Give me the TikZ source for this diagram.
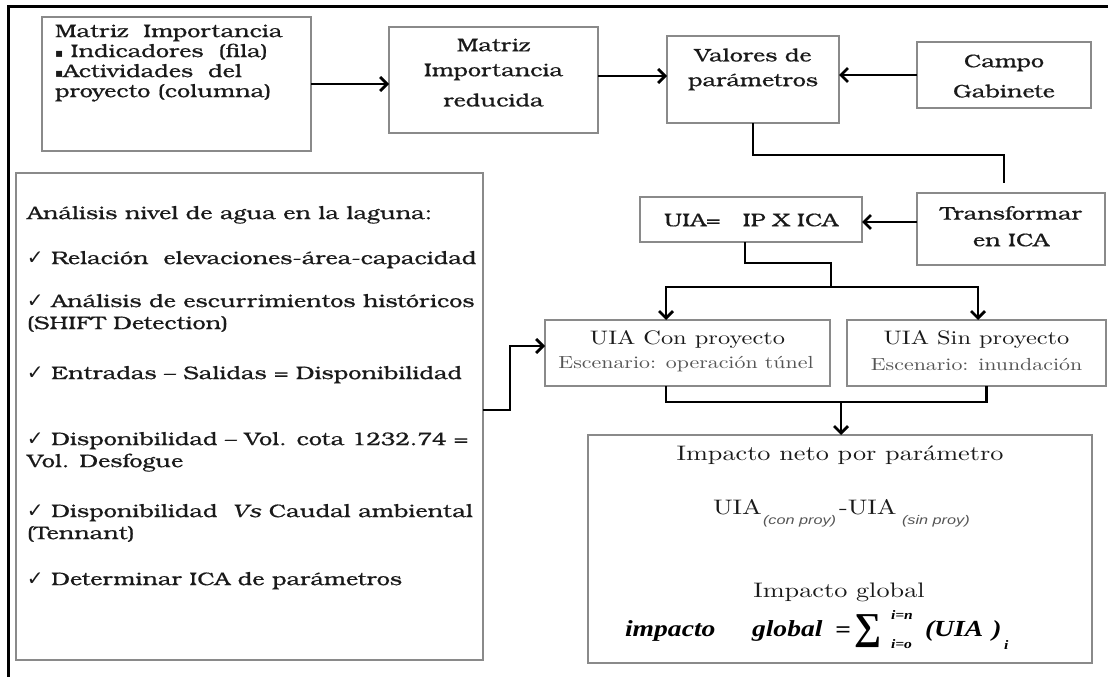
\documentclass[tikz,border=0pt]{standalone}
\usepackage{fontspec}
\usetikzlibrary{arrows.meta}
\newfontfamily\bk{texgyrebonum}[Extension=.otf, UprightFont=*-regular, ItalicFont=*-italic, BoldFont=*-bold, BoldItalicFont=*-bolditalic, FakeStretch=1.28, FakeBold=0.6]
\newfontfamily\lm{lmroman10}[Extension=.otf, UprightFont=*-regular, ItalicFont=*-italic, BoldFont=*-bold, FakeStretch=1.25]
\newfontfamily\tnr{Liberation Serif}[FakeStretch=1.2]
\newfontfamily\tnrs{Liberation Serif}
\newfontfamily\lsans{Liberation Sans}[FakeStretch=1.3]
\newfontfamily\dv{DejaVu Sans}
\newcommand\chk{{\dv\fontsize{20}{20}\selectfont ✓}}
\newcommand\sqb{{\dv\fontsize{12}{12}\selectfont ▪}}
\newcommand\fbi{\tnr\bfseries\itshape}
\definecolor{boxgray}{HTML}{8A8A8A}
\definecolor{txtc}{HTML}{1A1A1A}
\definecolor{subgray}{HTML}{555555}
\tikzset{
  box/.style={draw=boxgray, line width=1.8pt, inner sep=0pt, outer sep=0pt, anchor=north west},
  tx/.style={inner sep=0pt, outer sep=0pt, text=txtc, font=\bk\fontsize{18.3}{20}\selectfont},
  lmt/.style={inner sep=0pt, outer sep=0pt, text=txtc, font=\lm\fontsize{19.5}{22}\selectfont},
  lms/.style={inner sep=0pt, outer sep=0pt, text=subgray, font=\lm\fontsize{17.5}{18}\selectfont},
  lmb/.style={inner sep=0pt, outer sep=0pt, text=txtc, font=\lm\fontsize{21}{23}\selectfont},
  subt/.style={inner sep=0pt, outer sep=0pt, text=subgray, font=\lsans\itshape\fontsize{12.5}{13}\selectfont},
  fx/.style={inner sep=0pt, outer sep=0pt, text=black, font=\fbi\fontsize{23}{25}\selectfont},
  fxs/.style={inner sep=0pt, outer sep=0pt, text=black, font=\fbi\fontsize{13}{13}\selectfont},
  conn/.style={line width=2.8pt, draw=black},
  arr/.style={conn, -{Straight Barb[length=7pt,width=14pt]}},
}
\begin{document}
\begin{tikzpicture}[x=1pt,y=-1pt]
\useasboundingbox (0,0) rectangle (1108,677);
% outer frame
\draw[line width=3pt] (8,677) -- (8,7) -- (1108,7);

% boxes
\node[box, minimum width=269pt, minimum height=134pt] (b1) at (42,17) {};
\node[box, minimum width=209pt, minimum height=106pt] (b2) at (389,27) {};
\node[box, minimum width=172pt, minimum height=87pt] (b3) at (667,36) {};
\node[box, minimum width=174pt, minimum height=66pt] (b4) at (917,42) {};
\node[box, minimum width=188pt, minimum height=72pt] (b5) at (917,193) {};
\node[box, minimum width=222pt, minimum height=45pt] (b6) at (640,197) {};
\node[box, minimum width=467pt, minimum height=487pt] (b7) at (16,173) {};
\node[box, minimum width=285pt, minimum height=66pt] (b8) at (545,320) {};
\node[box, minimum width=259pt, minimum height=66pt] (b9) at (847,320) {};
\node[box, minimum width=504pt, minimum height=228pt] (b10) at (588,435) {};

% texts box 1
\node[tx, anchor=mid west] (t11) at (55,35) {Matriz\ \ Importancia};
\node[tx, anchor=mid west] (t12) at (55,55) {\sqb\ Indicadores\ \ (fila)};
\node[tx, anchor=mid west] (t13) at (55,75) {\sqb Actividades\ \ del};
\node[tx, anchor=mid west] (t14) at (55,95) {proyecto (columna)};
% box 2
\node[tx] (t21) at (493.5,45) {Matriz};
\node[tx] (t22) at (493.5,72) {Importancia};
\node[tx] (t23) at (493.5,100) {reducida};
% box 3
\node[tx] (t31) at (753,55) {Valores de};
\node[tx] (t32) at (753,82) {parámetros};
% box 4
\node[tx] (t41) at (1004,63) {Campo};
\node[tx] (t42) at (1004,91) {Gabinete};
% box 5
\node[tx] (t51) at (1011,213) {Transformar};
\node[tx] (t52) at (1011,240) {en ICA};
% box 6
\node[tx] (t61) at (751,220) {UIA=\ \ \ IP X ICA};
% box 7
\node[tx, anchor=mid west] (t71) at (27,217) {Análisis nivel de agua en la laguna:};
\node[tx, anchor=mid west] (t72) at (27,262) {\chk\ Relación\ \ elevaciones-área-capacidad};
\node[tx, anchor=mid west] (t73) at (27,305) {\chk\ Análisis de escurrimientos históricos};
\node[tx, anchor=mid west] (t74) at (27,327) {(SHIFT Detection)};
\node[tx, anchor=mid west] (t75) at (27,377) {\chk\ Entradas – Salidas = Disponibilidad};
\node[tx, anchor=mid west] (t76) at (27,443) {\chk\ Disponibilidad – Vol. cota 1232.74 =};
\node[tx, anchor=mid west] (t77) at (27,465) {Vol. Desfogue};
\node[tx, anchor=mid west] (t78) at (27,515) {\chk\ Disponibilidad\ \ \textit{Vs} Caudal ambiental};
\node[tx, anchor=mid west] (t79) at (27,537) {(Tennant)};
\node[tx, anchor=mid west] (t710) at (27,583) {\chk\ Determinar ICA de parámetros};
% box 8, 9
\node[lmt] (t81) at (687.5,340) {UIA Con proyecto};
\node[lms] (t82) at (686,364) {Escenario: operación túnel};
\node[lmt] (t91) at (976.5,340) {UIA Sin proyecto};
\node[lms] (t92) at (976.5,364) {Escenario: inundación};
% box 10
\node[lmb] (t101) at (840,455) {Impacto neto por parámetro};
\node[lmb, anchor=mid west] (u1) at (713,512) {UIA};
\node[subt, anchor=mid west] (u2) at (763,522) {(con proy)};
\node[lmb, anchor=mid west] (u3) at (839,512) {-UIA};
\node[subt, anchor=mid west] (u4) at (902,522) {(sin proy)};
\node[lmb] (t103) at (839,592) {Impacto global};
\node[fx, anchor=mid west] (f1) at (625,634) {impacto};
\node[fx, anchor=mid west] (f2) at (752,634) {global};
\node[fx, anchor=mid west] (f3) at (835,635) {{\tnr\bfseries =}};
\node[fx, anchor=mid west] (f4) at (854,637) {\tnrs\bfseries\fontsize{38}{38}\selectfont ∑};
\node[fxs, anchor=mid west] (f5) at (891,617) {i=n};
\node[fxs, anchor=mid west] (f6) at (891,646) {i=o};
\node[fx, anchor=mid west] (f7) at (925,634) {(UIA\hspace{9pt})};
\node[fxs, anchor=mid west] (f8) at (1004,647) {i};

% connectors
\coordinate (k1) at (1004,155);
\coordinate (k2) at (1004,183);
\coordinate (s1) at (831,263);
\coordinate (s2) at (831,287);
\coordinate (j) at (841,402);
\draw[arr] (b1.east) -- (b1.east -| b2.west);
\draw[arr] ([yshift=4pt]b2.east) -- ([yshift=4pt]b2.east -| b3.west);
\draw[arr] (b4.west) -- (b4.west -| b3.east);
\draw[conn] (b3.south) |- (k1) -- (k2);
\draw[arr] ([yshift=7pt]b5.west) -- ([yshift=7pt]b5.west -| b6.east);
\draw[conn] ([xshift=-6pt]b6.south) |- (s1) -- (s2);
\draw[arr] (s2) -| ([xshift=-21.5pt]b8.north);
\draw[arr] (s2) -| ([xshift=1.5pt]b9.north);
\draw[conn] ([xshift=-21.5pt]b8.south) |- (j);
\draw[conn] ([xshift=10pt]b9.south) |- (j);
\draw[arr] (j) -- (j |- b10.north);
\draw[arr] ([yshift=6.5pt]b7.east) -- ++(27,0) |- ([yshift=7pt]b8.west);
\end{tikzpicture}
\end{document}
